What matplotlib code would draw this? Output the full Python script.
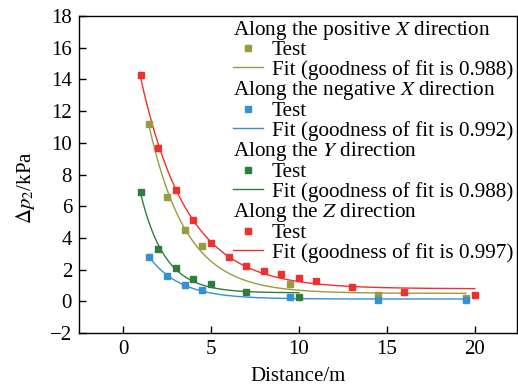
import numpy as np
import matplotlib
matplotlib.use("Agg")
import matplotlib.pyplot as plt
from matplotlib.lines import Line2D

plt.rcParams['font.family'] = ['Liberation Serif', 'DejaVu Serif']
plt.rcParams['mathtext.fontset'] = 'stix'
plt.rcParams['font.size'] = 15

# Measured pressure increments (kPa) versus distance (m)
x_posx = [1.5, 2.5, 3.5, 4.5, 9.5, 14.5, 19.5]
y_posx = [11.2, 6.6, 4.5, 3.5, 1.1, 0.4, 0.2]

x_negx = [1.5, 2.5, 3.5, 4.5, 9.5, 14.5, 19.5]
y_negx = [2.8, 1.6, 1.0, 0.7, 0.25, 0.1, 0.1]

x_y = [1, 2, 3, 4, 5, 7, 10]
y_y = [6.9, 3.3, 2.1, 1.4, 1.1, 0.6, 0.3]

x_z = [1, 2, 3, 4, 5, 6, 7, 8, 9, 10, 11, 13, 16, 20]
y_z = [14.3, 9.7, 7.0, 5.1, 3.7, 2.8, 2.2, 1.9, 1.7, 1.5, 1.3, 0.9, 0.6, 0.4]

headings = ["Along the positive $X$ direction",
            "Along the negative $X$ direction",
            "Along the $Y$ direction",
            "Along the $Z$ direction"]
fit_r2 = ["0.988", "0.992", "0.988", "0.997"]
colors = ["#9c9a3e", "#3391d6", "#2f7d3a", "#f0302e"]

W, H = 518, 392


def exp_fit(x, y):
    """Least-squares fit of y = y0 + A*exp(-x/t), grid over t."""
    x = np.asarray(x, float)
    y = np.asarray(y, float)
    best = None
    for t in np.linspace(0.2, 15, 3000):
        M = np.column_stack([np.ones_like(x), np.exp(-x / t)])
        coef, *_ = np.linalg.lstsq(M, y, rcond=None)
        r = np.sum((M @ coef - y) ** 2)
        if best is None or r < best[0]:
            best = (r, coef, t)
    _, (y0, A), t = best
    return lambda xx: y0 + A * np.exp(-xx / t)


fig = plt.figure(figsize=(W / 100, H / 100), dpi=100)
ax = fig.add_axes([79 / W, 1 - 333 / H, 438 / W, 317 / H])

series = [(x_posx, y_posx), (x_negx, y_negx), (x_y, y_y), (x_z, y_z)]
for (xs, ys), c in zip(series, colors):
    f = exp_fit(xs, ys)
    xx = np.linspace(min(xs), max(xs), 300)
    ax.plot(xx, f(xx), color=c, lw=1.0, zorder=2)
    ax.plot(xs, ys, ls='none', marker='s', ms=4, color=c, zorder=3)

ax.set_xlim(-2.5, 22.4)
ax.set_ylim(-2, 18)
ax.set_xticks([0, 5, 10, 15, 20])
ax.set_yticks(np.arange(-2, 19, 2))
ax.set_yticklabels(["\u22122"] + [str(v) for v in range(0, 19, 2)])
ax.tick_params(direction='in', length=5, width=1, pad=5)
for s in ax.spines.values():
    s.set_linewidth(1.0)

ax.set_xlabel("Distance/m")
ax.xaxis.set_label_coords(0.5, -0.108)
ax.set_ylabel(r"$\Delta p_2$/kPa")
ax.yaxis.set_label_coords(-0.097, 0.46)

# Legend drawn row by row (pixel layout, top-left origin)
fs = 15.3
pitch = 20.3
base0 = 34.5
x_head, x_h0, x_h1, x_text = 233, 233, 263, 272


def fx(px):
    return px / W


def fy(py):
    return 1 - py / H


row = 0
for head, c, r2 in zip(headings, colors, fit_r2):
    b = base0 + pitch * row
    fig.text(fx(x_head), fy(b), head, fontsize=fs, va='baseline', ha='left')
    b = base0 + pitch * (row + 1)
    fig.add_artist(Line2D([fx((x_h0 + x_h1) / 2)], [fy(b - 6.5)], ls='none',
                          marker='s', ms=4, color=c, transform=fig.transFigure))
    fig.text(fx(x_text), fy(b), "Test", fontsize=fs, va='baseline', ha='left')
    b = base0 + pitch * (row + 2)
    fig.add_artist(Line2D([fx(x_h0), fx(x_h1)], [fy(b - 8)] * 2, color=c,
                          lw=1.0, transform=fig.transFigure))
    fig.text(fx(x_text), fy(b), f"Fit (goodness of fit is {r2})",
             fontsize=fs, va='baseline', ha='left')
    row += 3

fig.savefig("out.png", dpi=100)
